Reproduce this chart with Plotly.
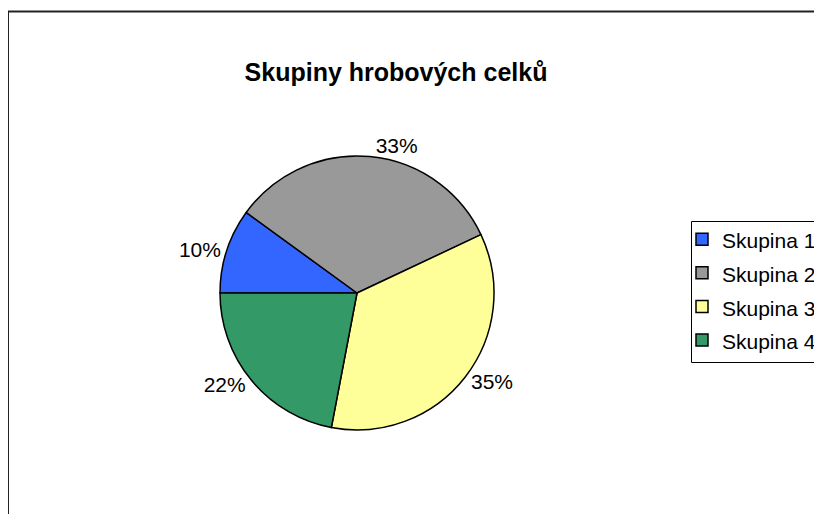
import plotly.graph_objects as go

labels = ["Skupina 1", "Skupina 2", "Skupina 3", "Skupina 4"]
values = [10, 33, 35, 22]
colors = ["#3366FF", "#999999", "#FFFF99", "#339966"]
title_text = "Skupiny hrobových celků"

# page body has an 8px margin, so positions are shifted by it
OFF = 8
W, H = 822 - OFF, 514 - OFF


def px(x):
    return (x - OFF) / W


def py(y):
    return 1 - (y - OFF) / H


cx, cy, r = 357, 293, 137

# legend rows are spaced by the legend font; the visible text is kept at 21px
legend_labels = ['<span style="font-size:21px">' + s + "</span>" for s in labels]

fig = go.Figure(go.Pie(
    labels=legend_labels,
    values=values,
    sort=False,
    direction="clockwise",
    rotation=270,
    marker=dict(colors=colors, line=dict(color="black", width=1.5)),
    textinfo="percent",
    texttemplate="%{percent:.0%}",
    textposition="outside",
    textfont=dict(family="Liberation Sans, Arial", size=21, color="black"),
    domain=dict(x=[px(cx - r), px(cx + r)],
                y=[py(cy + r), py(cy - r)]),
    hoverinfo="percent",
))

fig.update_layout(
    width=W, height=H,
    margin=dict(l=0, r=0, t=0, b=0),
    paper_bgcolor="white",
    font=dict(family="Liberation Sans, Arial", color="black"),
    title=dict(text="<b>" + title_text + "</b>", x=px(396), y=py(72),
               xanchor="center", yanchor="middle",
               font=dict(size=25, family="Liberation Sans, Arial", color="black")),
    showlegend=True,
    legend=dict(x=px(682), y=py(217.5), xanchor="left", yanchor="top",
                font=dict(size=23.5, family="Liberation Sans, Arial", color="black"),
                bgcolor="rgba(0,0,0,0)", borderwidth=0),
    shapes=[
        dict(type="rect", xref="paper", yref="paper",
             x0=px(8), x1=1.05, y0=-0.05, y1=py(11.5),
             line=dict(color="#222222", width=2), fillcolor="rgba(0,0,0,0)", layer="below"),
        dict(type="rect", xref="paper", yref="paper",
             x0=px(691.5), x1=1.05, y0=py(362.5), y1=py(221.5),
             line=dict(color="black", width=1), fillcolor="rgba(0,0,0,0)", layer="below"),
    ],
)

fig.write_html("out.html")
